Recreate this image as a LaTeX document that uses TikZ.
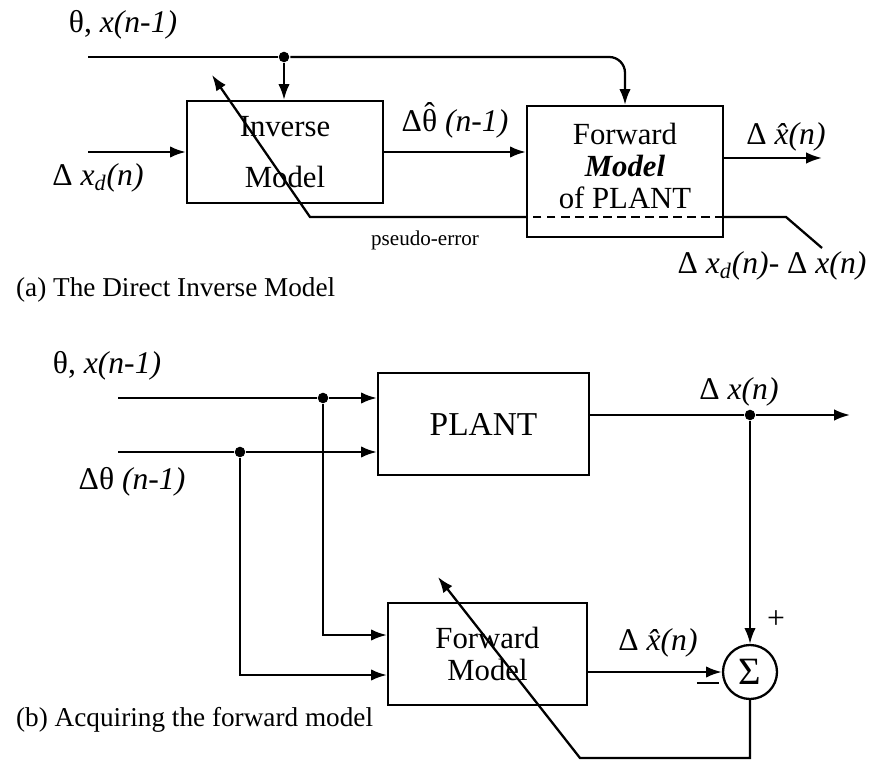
\documentclass[tikz,border=0pt]{standalone}
\usepackage{fontspec}
\setmainfont{Liberation Serif}
\usetikzlibrary{positioning, calc, arrows.meta}

\newcommand{\thhat}{\ooalign{θ\cr\hidewidth\raisebox{0.24em}{ˆ}\hidewidth\cr}}

\tikzset{
  block/.style={draw, fill=white, align=center, font=\fontsize{17.5}{18}\selectfont},
  junc/.style={circle, fill, inner sep=0pt, minimum size=6pt},
  lbl/.style={font=\fontsize{18}{20}\selectfont\itshape, inner sep=0pt},
  capt/.style={font=\fontsize{15.5}{18}\selectfont, anchor=west, inner sep=0pt},
  sig/.style={draw, circle, fill=white, minimum size=1.08cm, inner sep=0pt, font=\fontsize{22}{24}\selectfont}
}

\begin{document}
\begin{tikzpicture}[x=0.02cm, y=-0.02cm, line width=1.3pt, >={Latex[length=9pt,width=6.5pt]}]
    \useasboundingbox (0,0) rectangle (882,763);

    % --- (a) Direct inverse model ---
    \node[block, minimum width=3.92cm, minimum height=2.04cm] (inv) at (285,152) {Inverse\\[11pt]Model};
    \node[block, minimum width=3.92cm, minimum height=2.62cm] (fwdA) at (625,171.5) {};
    \node[align=center, font=\fontsize{17.5}{18}\selectfont] (fwdAtxt) at (625,166) {Forward\\\textbf{\textit{Model}}\\of\ PLANT};

    % top input, tapped for both models
    \coordinate (thA) at (88,57);
    \node[junc] (jA) at (284,57) {};
    \draw (thA) -- (jA);
    \draw[->] (jA) -- (inv.north -| jA);
    \draw[->, rounded corners=9pt] (jA) -| (fwdA.north);

    % desired change in, estimate across, prediction out
    \coordinate (xdA) at (88,152);
    \draw[->] (xdA) -- (xdA -| inv.west);
    \draw[->] (inv.east) -- (inv.east -| fwdA.west);
    \coordinate (outA) at (822,158);
    \draw[->] (fwdA.east |- outA) -- (outA);

    % pseudo-error path back through the forward model
    \coordinate (peL) at (310,217);
    \coordinate (peR) at (786,217);
    \coordinate (peEnd) at (822,248);
    \coordinate (adA) at (212,75);
    \draw (peEnd) -- (peR) -- (peR -| fwdA.east);
    \draw[dashed, dash pattern=on 5pt off 3pt] (peR -| fwdA.east) -- (peL -| fwdA.west);
    \draw[->] (peL -| fwdA.west) -- (peL) -- (adA);

    \node[lbl] (thAl) at (123,25) {\textup{θ,} x(n-1)};
    \node[lbl] (xdAl) at (98,178) {\textup{Δ} x\textsubscript{d}(n)};
    \node[lbl] (dthAl) at (455,124) {\textup{Δ\thhat} (n-1)};
    \node[lbl] (xhatAl) at (786,137) {\textup{Δ} \^{x}(n)};
    \node[lbl] (errAl) at (772,266) {\textup{Δ} x\textsubscript{d}(n)- \textup{Δ} x(n)};
    \node[font=\fontsize{12}{14}\selectfont] (peAl) at (425,240) {pseudo-error};
    \node[capt] (captA) at (15,290) {(a) The Direct Inverse Model};

    % --- (b) Acquiring the forward model ---
    \node[block, minimum width=4.22cm, minimum height=2.04cm, font=\fontsize{19}{21}\selectfont] (plant) at (483.5,424) {PLANT};
    \node[block, minimum width=3.98cm, minimum height=2.04cm] (fwdB) at (487.5,654) {Forward\\Model};
    \node[sig] (sum) at (750,672) {Σ};

    \coordinate (thB) at (118,398);
    \coordinate (dthB) at (118,452);
    \node[junc] (j1) at (323,398) {};
    \node[junc] (j2) at (240,452) {};
    \draw (thB) -- (j1);
    \draw[->] (j1) -- (j1 -| plant.west);
    \draw (dthB) -- (j2);
    \draw[->] (j2) -- (j2 -| plant.west);
    \draw[->] (j1) |- ($(fwdB.west)+(0,-19)$);
    \draw[->] (j2) |- ($(fwdB.west)+(0,21)$);

    % plant output and comparison
    \node[junc] (j3) at (750,415) {};
    \coordinate (outB) at (850,415);
    \draw (plant.east |- j3) -- (j3);
    \draw[->] (j3) -- (outB);
    \draw[->] (j3) -- (sum.north);
    \draw[->] (fwdB.east |- sum.west) -- (sum.west);
    \draw ($(sum.west)+(-25,11)$) -- ++(22,0);
    \node[font=\fontsize{18}{20}\selectfont] (plus) at (776,620) {+};

    % error fed back to adapt the forward model
    \coordinate (c1) at (750,758);
    \coordinate (c2) at (580,758);
    \coordinate (adB) at (438,577);
    \draw[->] (sum.south) -- (c1) -- (c2) -- (adB);

    \node[lbl] (thBl) at (107,366) {\textup{θ,} x(n-1)};
    \node[lbl] (dthBl) at (132,482) {\textup{Δθ} (n-1)};
    \node[lbl] (xBl) at (739,392) {\textup{Δ} x(n)};
    \node[lbl] (xhatBl) at (658,643) {\textup{Δ} \^{x}(n)};
    \node[capt] (captB) at (15,720) {(b) Acquiring the forward model};

\end{tikzpicture}
\end{document}
